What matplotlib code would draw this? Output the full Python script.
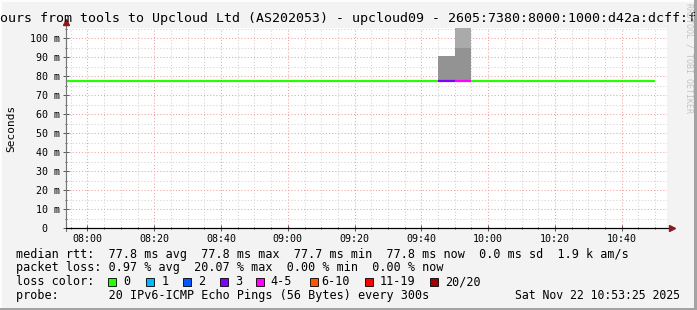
import matplotlib
matplotlib.use("Agg")
import matplotlib.pyplot as plt
from matplotlib.patches import Rectangle
import numpy as np

# ---------------- data ----------------
step_start = ["07:50", "07:55", "08:00", "08:05", "08:10", "08:15", "08:20", "08:25",
              "08:30", "08:35", "08:40", "08:45", "08:50", "08:55", "09:00", "09:05",
              "09:10", "09:15", "09:20", "09:25", "09:30", "09:35", "09:40", "09:45",
              "09:50", "09:55", "10:00", "10:05", "10:10", "10:15", "10:20", "10:25",
              "10:30", "10:35", "10:40", "10:45"]
step_end = "10:50"
median_ms = [77.8, 77.8, 77.8, 77.8, 77.8, 77.8, 77.8, 77.8,
             77.8, 77.8, 77.8, 77.8, 77.8, 77.8, 77.8, 77.8,
             77.8, 77.8, 77.8, 77.8, 77.8, 77.8, 77.8, 77.7,
             77.8, 77.8, 77.8, 77.8, 77.8, 77.8, 77.8, 77.8,
             77.8, 77.8, 77.8, 77.8]
loss_count = [0, 0, 0, 0, 0, 0, 0, 0,
              0, 0, 0, 0, 0, 0, 0, 0,
              0, 0, 0, 0, 0, 0, 0, 3,
              4, 0, 0, 0, 0, 0, 0, 0,
              0, 0, 0, 0]
# smoke (ping spread) upper bounds per step, in ms; NaN = no visible smoke
smoke_dark_top = [np.nan] * 23 + [90.7, 95.0] + [np.nan] * 11
smoke_light_top = [np.nan] * 24 + [112.0] + [np.nan] * 11

x_tick_labels = ["08:00", "08:20", "08:40", "09:00", "09:20", "09:40", "10:00", "10:20", "10:40"]
y_tick_values = [0, 10, 20, 30, 40, 50, 60, 70, 80, 90, 100]
y_tick_labels = ["0  ", "10 m", "20 m", "30 m", "40 m", "50 m", "60 m", "70 m", "80 m", "90 m", "100 m"]

loss_bucket_labels = ["0", "1", "2", "3", "4-5", "6-10", "11-19", "20/20"]
loss_bucket_colors = ["#26ff00", "#00b8ff", "#0059ff", "#7e00ff", "#ff00ff", "#ff5500", "#ff0000", "#a10000"]
loss_bucket_max = [0, 1, 2, 3, 5, 10, 19, 20]

title_text = "ours from tools to Upcloud Ltd (AS202053) - upcloud09 - 2605:7380:8000:1000:d42a:dcff:f"
rtt_line = "median rtt:  77.8 ms avg  77.8 ms max  77.7 ms min  77.8 ms now  0.0 ms sd  1.9 k am/s"
loss_line = "packet loss: 0.97 % avg  20.07 % max  0.00 % min  0.00 % now"
probe_line = "probe:       20 IPv6-ICMP Echo Pings (56 Bytes) every 300s"
date_text = "Sat Nov 22 10:53:25 2025"
window_start = "07:53:25"
window_end = "10:53:25"


def to_min(s):
    parts = [int(p) for p in s.split(":")]
    m = parts[0] * 60 + parts[1]
    if len(parts) > 2:
        m += parts[2] / 60.0
    return m


def loss_color(n):
    for mx, c in zip(loss_bucket_max, loss_bucket_colors):
        if n <= mx:
            return c
    return loss_bucket_colors[-1]


W, H = 697, 310
MONO = "DejaVu Sans Mono"
plt.rcParams["font.family"] = MONO

fig = plt.figure(figsize=(W / 100, H / 100), dpi=100, facecolor="#f3f3f3")


def fx(px):
    return px / W


def fy(py):
    return 1 - py / H


ax_l, ax_r, ax_t, ax_b = 65.5, 666.5, 28, 228
ax = fig.add_axes([fx(ax_l), fy(ax_b), (ax_r - ax_l) / W, (ax_b - ax_t) / H])
ax.set_facecolor("white")

starts = np.array([to_min(s) for s in step_start])
ends = np.append(starts[1:], to_min(step_end))
widths = ends - starts
med = np.array(median_ms)

dark = np.array(smoke_dark_top)
light = np.array(smoke_light_top)
ax.bar(starts, light - med, width=widths, bottom=med, align="edge",
       color="#aaaaaa", lw=0, zorder=2)
ax.bar(starts, dark - med, width=widths, bottom=med, align="edge",
       color="#939393", lw=0, zorder=3)

ax.hlines(med, starts, ends, colors=[loss_color(n) for n in loss_count],
          lw=1.6, zorder=4, capstyle="butt")

ax.set_xlim(to_min(window_start), to_min(window_end))
ax.set_ylim(0, 105.5)

major_x = [to_min(s) for s in x_tick_labels]
ax.set_xticks(major_x)
ax.set_xticklabels(x_tick_labels)
ax.set_xticks(np.arange(475, 655, 5), minor=True)
ax.set_yticks(y_tick_values)
ax.set_yticklabels(y_tick_labels)
ax.set_yticks(np.arange(5, 106, 10), minor=True)

ax.set_axisbelow(True)
ax.grid(which="major", color="#f0a0a0", ls=(0, (1, 2)), lw=0.75)
ax.grid(which="minor", color="#d2d2d2", ls=(0, (1, 2)), lw=0.75)

for s in ["top", "right"]:
    ax.spines[s].set_visible(False)
ax.spines["left"].set_color("#777777")
ax.spines["left"].set_linewidth(0.8)
ax.spines["bottom"].set_color("black")
ax.spines["bottom"].set_linewidth(0.8)

ax.tick_params(axis="both", which="both", labelsize=7.2, colors="#555555",
               labelcolor="black", direction="inout")
ax.tick_params(axis="both", which="major", length=4, width=0.7)
ax.tick_params(axis="both", which="minor", length=2, width=0.7)
ax.tick_params(axis="y", pad=2.0)
ax.tick_params(axis="x", pad=2.5)

# axis extensions and arrows
ax.plot([0, 0], [-0.015, 1.035], transform=ax.transAxes, color="#777777", lw=0.8, clip_on=False, zorder=5)
ax.plot([0, 1.008], [0, 0], transform=ax.transAxes, color="black", lw=0.8, clip_on=False, zorder=5)
ax.plot([0], [1.03], marker="^", ms=4.5, color="#8b1a1a", transform=ax.transAxes, clip_on=False, zorder=6)
ax.plot([1.009], [0], marker=">", ms=4.5, color="#8b1a1a", transform=ax.transAxes, clip_on=False, zorder=6)

# title
fig.text(fx(0), fy(22), title_text, fontsize=9.5, va="baseline", ha="left", family=MONO)
# y label
fig.text(fx(11), fy(128), "Seconds", fontsize=8, rotation=90, va="center", ha="center", family=MONO)
# watermark
fig.text(fx(689), fy(3), "RRDTOOL / TOBI OETIKER", fontsize=6, rotation=270, va="top", ha="center",
         color="#c4c4c4", family=MONO)

# legend
LS = 8.5
fig.text(fx(16), fy(258), rtt_line, fontsize=LS, va="baseline", ha="left", family=MONO)
fig.text(fx(16), fy(271.5), loss_line, fontsize=LS, va="baseline", ha="left", family=MONO)
fig.text(fx(16), fy(285.3), "loss color:", fontsize=LS, va="baseline", ha="left", family=MONO)
fig.text(fx(16), fy(299.3), probe_line, fontsize=LS, va="baseline", ha="left", family=MONO)
fig.text(fx(680), fy(299.3), date_text, fontsize=8.3, va="baseline", ha="right", family=MONO)

box_x = [108, 146, 183, 219.5, 256, 310, 365, 429.5]
lab_x = [123, 161.5, 198.5, 235, 270.5, 321.5, 380, 445]
for bx, lx, lab, col in zip(box_x, lab_x, loss_bucket_labels, loss_bucket_colors):
    fig.patches.append(Rectangle((fx(bx), fy(286)), 8 / W, 8 / H, transform=fig.transFigure,
                                 facecolor=col, edgecolor="black", lw=0.6))
    fig.text(fx(lx), fy(285.3), lab, fontsize=LS, va="baseline", ha="left", family=MONO)

# frame
fig.patches.append(Rectangle((0, fy(2)), 1, 2 / H, transform=fig.transFigure, facecolor="#fdfdfd", lw=0))
fig.patches.append(Rectangle((0, 0), 2 / W, 1, transform=fig.transFigure, facecolor="#fdfdfd", lw=0))
fig.patches.append(Rectangle((fx(694), 0), 3 / W, 1, transform=fig.transFigure, facecolor="#a3a3a3", lw=0))
fig.patches.append(Rectangle((0, 0), 1, 2 / H, transform=fig.transFigure, facecolor="#a3a3a3", lw=0))

fig.savefig("out.png", dpi=100, facecolor=fig.get_facecolor())
